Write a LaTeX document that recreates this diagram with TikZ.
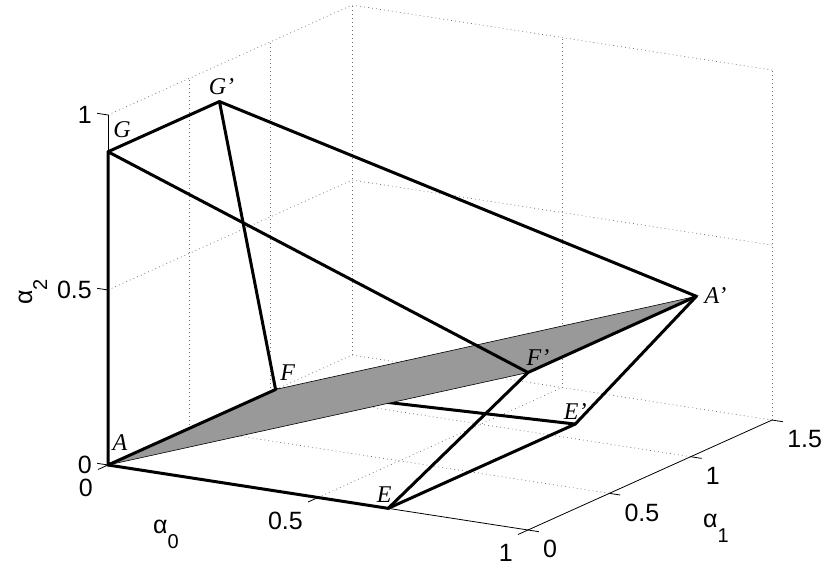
\documentclass[tikz,border=0pt]{standalone}
\usepackage{fontspec}
\setmainfont{Liberation Sans}
\newfontfamily\ptfont{Liberation Serif}
\usepackage{tikz}
\usetikzlibrary{calc}
\definecolor{patchc}{RGB}{153,153,153}
\definecolor{gridc}{RGB}{110,110,110}
\newcommand{\alab}[1]{α\raisebox{-15pt}{\fontsize{20}{20}\selectfont #1}}

\begin{document}
\begin{tikzpicture}[every node/.style={font=\fontsize{25}{25}\selectfont, inner sep=0pt},
  gridln/.style={gridc, line width=0.7pt, dash pattern=on 0.8pt off 3.2pt},
  axln/.style={black, line width=0.8pt},
  edge/.style={black, line width=3pt, line join=round, line cap=round},
  ptlab/.style={font=\fontsize{24}{24}\selectfont\ptfont\itshape}]
  \useasboundingbox (0,0) rectangle (830pt,568pt);
  \begin{scope}[shift={(108pt,103pt)}, x={(420pt,-65pt)}, y={(162.7pt,73.3pt)}, z={(0pt,350pt)}]
    % grid on the back walls and the floor
    \foreach \a in {0.5,1,1.5} \draw[gridln] (0,\a,0) -- (0,\a,1);
    \foreach \c in {0,0.5,1} \draw[gridln] (0,0,\c) -- (0,1.5,\c) -- (1,1.5,\c);
    \foreach \b in {0.5,1} \draw[gridln] (\b,1.5,0) -- (\b,1.5,1);
    \draw[gridln] (0.5,0,0) -- (0.5,1.5,0);
    \foreach \a in {0.5,1} \draw[gridln] (0,\a,0) -- (1,\a,0);
    % axes and ticks
    \draw[axln] (0,0,0) -- (0,0,1);
    \draw[axln] (0,0,0) -- (1,0,0) -- (1,1.5,0);
    \foreach \t [count=\i] in {0,0.5,1} {
      \draw[axln] (0,0,\t) -- (-0.026,0,\t);
      \draw[axln] (\t,0,0) -- (\t,-0.062,0);
      \node[anchor=east] (zt\i) at ($(0,0,\t)+(-16pt,0pt)$) {\t};
      \node[anchor=north east] (xt\i) at ($(\t,0,0)+(-15pt,-14pt)$) {\t};
    }
    \foreach \t [count=\i] in {0,0.5,1,1.5} {
      \draw[axln] (1,\t,0) -- (1.026,\t,0);
      \node[anchor=north west] (yt\i) at ($(1,\t,0)+(15pt,-10pt)$) {\t};
    }
    % vertices
    \coordinate (A) at (0,0,0);
    \coordinate (E) at (0.667,0,0);
    \coordinate (Ep) at (0.667,1.15,0);
    \coordinate (F) at (0,1.03,0);
    \coordinate (Fp) at (1,0,0.45);
    \coordinate (Ap) at (1,1.035,0.451);
    \coordinate (G) at (0,0,0.895);
    \coordinate (Gp) at (0,0.685,0.895);
    % edges, the shaded face hides part of F--E'
    \draw[edge] (F) -- (Ep);
    \filldraw[fill=patchc, draw=black, line width=0.6pt] (A) -- (Fp) -- (Ap) -- (F) -- cycle;
    \draw[edge] (F) -- (A) -- (G) -- (Gp) -- (Ap) -- (Fp) -- (G);
    \draw[edge] (Gp) -- (F);
    \draw[edge] (A) -- (E) -- (Fp);
    \draw[edge] (E) -- (Ep) -- (Ap);
    % vertex labels
    \node[ptlab] (lA) at ($(A)+(12pt,22pt)$) {A};
    \node[ptlab] (lE) at ($(E)+(-4pt,14pt)$) {E};
    \node[ptlab] (lEp) at ($(Ep)+(0pt,13pt)$) {E’};
    \node[ptlab] (lF) at ($(F)+(12pt,17pt)$) {F};
    \node[ptlab] (lFp) at ($(Fp)+(10pt,15pt)$) {F’};
    \node[ptlab, anchor=west] (lAp) at ($(Ap)+(8pt,1pt)$) {A’};
    \node[ptlab] (lG) at ($(G)+(14pt,22pt)$) {G};
    \node[ptlab] (lGp) at ($(Gp)+(2pt,15pt)$) {G’};
  \end{scope}
  % axis titles
  \node[anchor=base west] (xlab) at (153pt,35pt) {\alab{0}};
  \node[anchor=base west] (ylab) at (703pt,41pt) {\alab{1}};
  \node[anchor=base west, rotate=90] (zlab) at (32pt,263pt) {\alab{2}};
\end{tikzpicture}
\end{document}
